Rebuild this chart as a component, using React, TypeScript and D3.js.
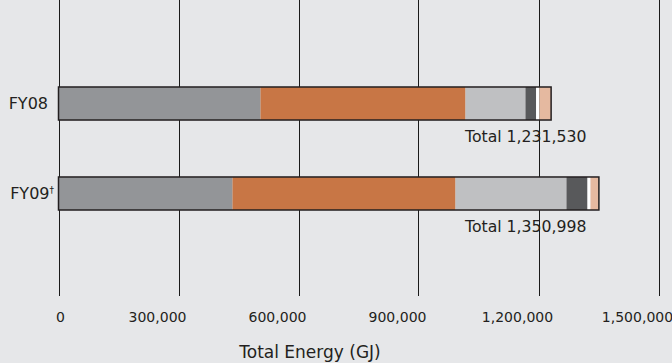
import { useEffect, useRef } from 'react'
import * as d3 from 'd3'

// energy by source, GJ
const years = ['FY08', 'FY09']
const sourceKeys = ['s1', 's2', 's3', 's4', 's5', 's6']
const s1 = [505000, 435000]
const s2 = [512500, 557500]
const s3 = [150000, 277500]
const s4 = [26500, 52500]
const s5 = [8500, 7500]
const s6 = [29030, 20998]
const totals = ['Total 1,231,530', 'Total 1,350,998']
const xTicks = [0, 300000, 600000, 900000, 1200000, 1500000]
const colors = ['#939598', '#c87645', '#bfc0c2', '#58595b', '#ffffff', '#e5b9a0']

const W = 672
const H = 363
const FONT = '"DejaVu Sans", sans-serif'
const INK = '#231f20'

export default function App() {
  const svgRef = useRef<SVGSVGElement>(null)

  useEffect(() => {
    if (!svgRef.current) return
    document.body.style.margin = '0'
    const svg = d3.select(svgRef.current)
    svg.selectAll('*').remove()

    const rows = years.map((y, i) => ({
      year: y,
      s1: s1[i], s2: s2[i], s3: s3[i], s4: s4[i], s5: s5[i], s6: s6[i],
    }))

    const x = d3.scaleLinear().domain([0, 1500000]).range([58.5, 658.5])
    const y = d3.scaleBand().domain(years).range([42, 255]).paddingInner(0.633).paddingOuter(0.5)

    svg.append('rect').attr('width', W).attr('height', H).attr('fill', '#e6e7e9')

    // grid
    svg.append('g')
      .selectAll('line')
      .data(xTicks)
      .join('line')
      .attr('x1', (d) => Math.round(x(d)) + 0.5)
      .attr('x2', (d) => Math.round(x(d)) + 0.5)
      .attr('y1', 0)
      .attr('y2', 296)
      .attr('stroke', '#1a1a1a')
      .attr('stroke-width', 1)

    const stack = d3.stack<any>().keys(sourceKeys)(rows)

    const bars = svg.append('g')
    stack.forEach((layer, k) => {
      bars.append('g')
        .attr('fill', colors[k])
        .selectAll('rect')
        .data(layer)
        .join('rect')
        .attr('x', (d) => x(d[0]))
        .attr('width', (d) => x(d[1]) - x(d[0]))
        .attr('y', (d: any) => y(d.data.year)!)
        .attr('height', y.bandwidth())
    })

    // outline around each bar
    bars.append('g')
      .selectAll('rect')
      .data(rows)
      .join('rect')
      .attr('x', x(0))
      .attr('width', (d) => x(d3.sum(sourceKeys, (k) => (d as any)[k])) - x(0))
      .attr('y', (d) => y(d.year)!)
      .attr('height', y.bandwidth())
      .attr('fill', 'none')
      .attr('stroke', INK)
      .attr('stroke-width', 1.5)

    // category labels
    const yl = svg.append('g')
      .attr('font-family', FONT)
      .attr('font-size', 16)
      .attr('fill', INK)
    years.forEach((yr, i) => {
      const t = yl.append('text')
        .attr('x', i === 1 ? 54 : 48)
        .attr('y', y(yr)! + y.bandwidth() / 2)
        .attr('dy', '0.36em')
        .attr('text-anchor', 'end')
        .text(yr)
      if (i === 1) {
        t.append('tspan').attr('font-size', 9).attr('dy', '-0.75em').text('†')
      }
    })

    // totals
    svg.append('g')
      .attr('font-family', FONT)
      .attr('font-size', 15.7)
      .attr('fill', INK)
      .selectAll('text')
      .data(years)
      .join('text')
      .attr('x', 465)
      .attr('y', (d) => y(d)! + y.bandwidth() + 22)
      .text((d, i) => totals[i])

    // tick labels (sit a little left of their gridlines in the original)
    svg.append('g')
      .attr('font-family', FONT)
      .attr('font-size', 14)
      .attr('fill', INK)
      .attr('text-anchor', 'middle')
      .selectAll('text')
      .data(xTicks)
      .join('text')
      .attr('x', (d) => (d === 0 ? x(d) + 2 : x(d) - 21))
      .attr('y', 322)
      .text((d) => d3.format(',')(d))

    svg.append('text')
      .attr('x', 310)
      .attr('y', 358)
      .attr('text-anchor', 'middle')
      .attr('font-family', FONT)
      .attr('font-size', 17)
      .attr('fill', INK)
      .text('Total Energy (GJ)')
  }, [])

  return <svg ref={svgRef} width={W} height={H} style={{ display: 'block' }} />
}
